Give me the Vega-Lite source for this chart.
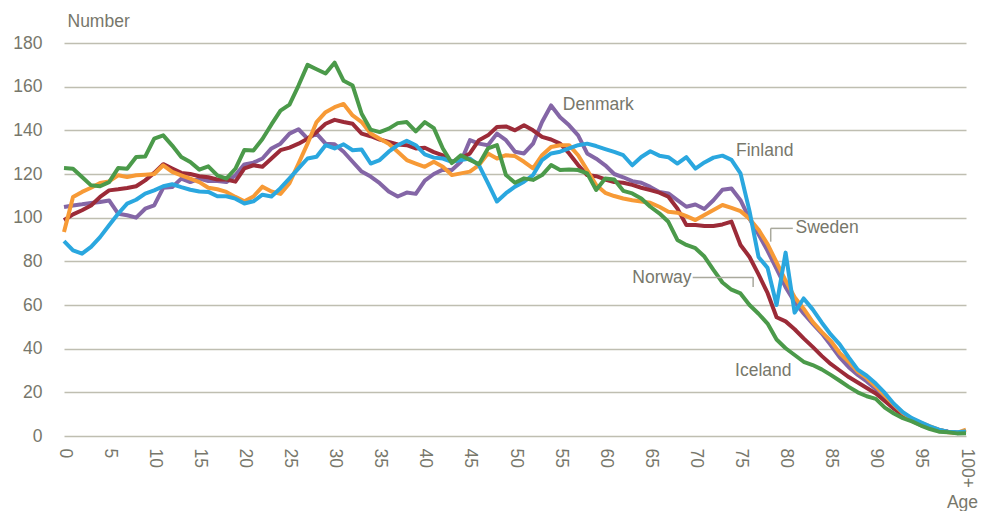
{
  "$schema": "https://vega.github.io/schema/vega-lite/v6.json",
  "width": 902,
  "height": 393,
  "autosize": {"type": "none"},
  "padding": {"left": 64, "top": 43, "right": 16, "bottom": 75},
  "background": "white",
  "config": {
    "view": {"stroke": null},
    "font": "Liberation Sans",
    "axis": {"labelFont": "Liberation Sans", "titleFont": "Liberation Sans", "labelColor": "#77776b", "titleColor": "#77776b", "labelFontSize": 17.5, "titleFontSize": 17.5, "titleFontWeight": "normal", "gridColor": "#bfbeb1", "gridWidth": 1.5, "gridOpacity": 1, "domain": false, "ticks": false}
  },
  "datasets": {
    "pop": [
      {"age":0,"Denmark":104.9,"Finland":89.3,"Iceland":122.7,"Norway":98.8,"Sweden":93.4},
      {"age":1,"Denmark":105.6,"Finland":85,"Iceland":122.4,"Norway":101.5,"Sweden":109.5},
      {"age":2,"Denmark":106.1,"Finland":83.5,"Iceland":118.6,"Norway":103.4,"Sweden":111.8},
      {"age":3,"Denmark":106.7,"Finland":86.6,"Iceland":114.8,"Norway":105.6,"Sweden":113.7},
      {"age":4,"Denmark":107.2,"Finland":91.1,"Iceland":114.4,"Norway":109.5,"Sweden":115.9},
      {"age":5,"Denmark":107.9,"Finland":96.5,"Iceland":116.3,"Norway":112.5,"Sweden":116.6},
      {"age":6,"Denmark":101.8,"Finland":101.8,"Iceland":122.7,"Norway":113,"Sweden":119.4},
      {"age":7,"Denmark":101.1,"Finland":106.4,"Iceland":122.4,"Norway":113.6,"Sweden":118.6},
      {"age":8,"Denmark":100,"Finland":108.2,"Iceland":127.8,"Norway":114.4,"Sweden":119.4},
      {"age":9,"Denmark":104.1,"Finland":111,"Iceland":128,"Norway":117.1,"Sweden":119.7},
      {"age":10,"Denmark":105.6,"Finland":112.5,"Iceland":136.2,"Norway":120.5,"Sweden":120},
      {"age":11,"Denmark":113.7,"Finland":114.4,"Iceland":137.7,"Norway":124.5,"Sweden":124},
      {"age":12,"Denmark":114,"Finland":115.3,"Iceland":133,"Norway":122.5,"Sweden":121},
      {"age":13,"Denmark":117.9,"Finland":114,"Iceland":127.8,"Norway":120.5,"Sweden":119.4},
      {"age":14,"Denmark":116.3,"Finland":112.8,"Iceland":125.5,"Norway":120,"Sweden":117.9},
      {"age":15,"Denmark":117.9,"Finland":112,"Iceland":122,"Norway":119,"Sweden":116.3},
      {"age":16,"Denmark":116.8,"Finland":111.8,"Iceland":123.5,"Norway":118.5,"Sweden":113.7},
      {"age":17,"Denmark":116.8,"Finland":109.8,"Iceland":119.4,"Norway":117.5,"Sweden":113},
      {"age":18,"Denmark":116.3,"Finland":109.8,"Iceland":117.9,"Norway":117.5,"Sweden":111.8},
      {"age":19,"Denmark":119.4,"Finland":108.7,"Iceland":122.4,"Norway":116.5,"Sweden":109.5},
      {"age":20,"Denmark":124.4,"Finland":106.5,"Iceland":131,"Norway":122.6,"Sweden":107.5},
      {"age":21,"Denmark":125.2,"Finland":107.5,"Iceland":130.8,"Norway":124,"Sweden":109.7},
      {"age":22,"Denmark":127.1,"Finland":110.5,"Iceland":136,"Norway":123.3,"Sweden":114.2},
      {"age":23,"Denmark":131.7,"Finland":109.7,"Iceland":142.7,"Norway":127.1,"Sweden":112},
      {"age":24,"Denmark":133.9,"Finland":113.5,"Iceland":149,"Norway":130.9,"Sweden":110.9},
      {"age":25,"Denmark":138.5,"Finland":118,"Iceland":151.8,"Norway":132.1,"Sweden":115.8},
      {"age":26,"Denmark":140.5,"Finland":122.6,"Iceland":160.5,"Norway":133.9,"Sweden":124.8},
      {"age":27,"Denmark":136.2,"Finland":127.1,"Iceland":170,"Norway":136.2,"Sweden":133.9},
      {"age":28,"Denmark":138.5,"Finland":127.9,"Iceland":168,"Norway":139.2,"Sweden":143.8},
      {"age":29,"Denmark":133.9,"Finland":133.2,"Iceland":166,"Norway":143,"Sweden":148.3},
      {"age":30,"Denmark":133.6,"Finland":131.7,"Iceland":171,"Norway":144.8,"Sweden":150.6},
      {"age":31,"Denmark":130.2,"Finland":133.6,"Iceland":162.7,"Norway":143.8,"Sweden":152.1},
      {"age":32,"Denmark":125.6,"Finland":130.9,"Iceland":160.5,"Norway":143,"Sweden":146.8},
      {"age":33,"Denmark":121.1,"Finland":131.2,"Iceland":147.6,"Norway":138.5,"Sweden":143.8},
      {"age":34,"Denmark":118.8,"Finland":124.8,"Iceland":140.3,"Norway":137.3,"Sweden":138.5},
      {"age":35,"Denmark":115.8,"Finland":126.4,"Iceland":139.2,"Norway":135.8,"Sweden":136.2},
      {"age":36,"Denmark":112,"Finland":130.2,"Iceland":140.8,"Norway":134.7,"Sweden":133.9},
      {"age":37,"Denmark":109.7,"Finland":133.2,"Iceland":143.3,"Norway":133.5,"Sweden":130.2},
      {"age":38,"Denmark":111.5,"Finland":135.2,"Iceland":143.8,"Norway":133.2,"Sweden":126.4},
      {"age":39,"Denmark":110.9,"Finland":133.2,"Iceland":139.5,"Norway":131.7,"Sweden":124.8},
      {"age":40,"Denmark":117,"Finland":129,"Iceland":143.8,"Norway":132,"Sweden":123.3},
      {"age":41,"Denmark":120,"Finland":127.5,"Iceland":141,"Norway":130,"Sweden":125.6},
      {"age":42,"Denmark":122,"Finland":127.1,"Iceland":131.7,"Norway":128.5,"Sweden":123.3},
      {"age":43,"Denmark":121.8,"Finland":125.6,"Iceland":125,"Norway":125.6,"Sweden":119.5},
      {"age":44,"Denmark":125.6,"Finland":126.4,"Iceland":128.6,"Norway":127.1,"Sweden":120.3},
      {"age":45,"Denmark":135.5,"Finland":127.1,"Iceland":126.4,"Norway":129.4,"Sweden":121.1},
      {"age":46,"Denmark":133.9,"Finland":124.1,"Iceland":124.5,"Norway":135.5,"Sweden":124.1},
      {"age":47,"Denmark":133.2,"Finland":115.8,"Iceland":131.7,"Norway":137.7,"Sweden":129.4},
      {"age":48,"Denmark":138.5,"Finland":107.4,"Iceland":133.2,"Norway":141.5,"Sweden":127.1},
      {"age":49,"Denmark":135.5,"Finland":111.2,"Iceland":119.5,"Norway":141.8,"Sweden":128.6},
      {"age":50,"Denmark":130.2,"Finland":114.2,"Iceland":116,"Norway":140,"Sweden":128.2},
      {"age":51,"Denmark":129.4,"Finland":116.5,"Iceland":118,"Norway":142.3,"Sweden":125.6},
      {"age":52,"Denmark":133.9,"Finland":119.5,"Iceland":117.3,"Norway":140,"Sweden":122.6},
      {"age":53,"Denmark":143.8,"Finland":126.4,"Iceland":119.5,"Norway":137,"Sweden":128.6},
      {"age":54,"Denmark":151.4,"Finland":129.4,"Iceland":124.1,"Norway":135.8,"Sweden":132.4},
      {"age":55,"Denmark":146,"Finland":130.2,"Iceland":121.8,"Norway":133.9,"Sweden":133.2},
      {"age":56,"Denmark":142.3,"Finland":131.7,"Iceland":122.1,"Norway":129.4,"Sweden":133.2},
      {"age":57,"Denmark":137.7,"Finland":133.2,"Iceland":121.8,"Norway":124.1,"Sweden":128.6},
      {"age":58,"Denmark":129.4,"Finland":133.9,"Iceland":120.3,"Norway":119.5,"Sweden":121.8},
      {"age":59,"Denmark":127,"Finland":132.8,"Iceland":112.7,"Norway":119,"Sweden":115},
      {"age":60,"Denmark":124,"Finland":131.4,"Iceland":117.9,"Norway":117.5,"Sweden":111.4},
      {"age":61,"Denmark":120,"Finland":130.1,"Iceland":117.5,"Norway":116.3,"Sweden":109.9},
      {"age":62,"Denmark":118.5,"Finland":128.6,"Iceland":112.3,"Norway":116,"Sweden":108.8},
      {"age":63,"Denmark":116.7,"Finland":124,"Iceland":111.1,"Norway":115,"Sweden":108},
      {"age":64,"Denmark":116,"Finland":127.8,"Iceland":108.8,"Norway":113.7,"Sweden":107.4},
      {"age":65,"Denmark":114.1,"Finland":130.4,"Iceland":105,"Norway":112.6,"Sweden":106.8},
      {"age":66,"Denmark":111.8,"Finland":128.4,"Iceland":102,"Norway":111.5,"Sweden":105},
      {"age":67,"Denmark":111.1,"Finland":127.7,"Iceland":98.1,"Norway":109.6,"Sweden":102.7},
      {"age":68,"Denmark":108,"Finland":124.8,"Iceland":89.8,"Norway":104.2,"Sweden":102.3},
      {"age":69,"Denmark":105,"Finland":127.7,"Iceland":87.5,"Norway":96.6,"Sweden":100.7},
      {"age":70,"Denmark":106,"Finland":122.5,"Iceland":86,"Norway":96.6,"Sweden":98.9},
      {"age":71,"Denmark":104,"Finland":125.3,"Iceland":82.2,"Norway":96.2,"Sweden":101.2},
      {"age":72,"Denmark":108,"Finland":127.5,"Iceland":76.1,"Norway":96.2,"Sweden":103.5},
      {"age":73,"Denmark":112.8,"Finland":128.4,"Iceland":70.3,"Norway":96.9,"Sweden":105.8},
      {"age":74,"Denmark":113.4,"Finland":126.5,"Iceland":67,"Norway":98.2,"Sweden":104.5},
      {"age":75,"Denmark":108,"Finland":120.3,"Iceland":65.3,"Norway":87.5,"Sweden":103},
      {"age":76,"Denmark":99.5,"Finland":103,"Iceland":60,"Norway":82,"Sweden":99.5},
      {"age":77,"Denmark":92.4,"Finland":82,"Iceland":56,"Norway":74,"Sweden":94.5},
      {"age":78,"Denmark":84.8,"Finland":77,"Iceland":51.5,"Norway":65.5,"Sweden":87.9},
      {"age":79,"Denmark":76.5,"Finland":60,"Iceland":44.2,"Norway":54.4,"Sweden":79.5},
      {"age":80,"Denmark":68.2,"Finland":84,"Iceland":40.2,"Norway":52.5,"Sweden":71.2},
      {"age":81,"Denmark":61.4,"Finland":56.5,"Iceland":37.1,"Norway":48.9,"Sweden":63.6},
      {"age":82,"Denmark":56.1,"Finland":63,"Iceland":34,"Norway":44.7,"Sweden":58.3},
      {"age":83,"Denmark":51.5,"Finland":58,"Iceland":32.5,"Norway":40.8,"Sweden":52.3},
      {"age":84,"Denmark":47,"Finland":52,"Iceland":30.5,"Norway":36.7,"Sweden":47.7},
      {"age":85,"Denmark":41.7,"Finland":46.5,"Iceland":28,"Norway":33,"Sweden":43.6},
      {"age":86,"Denmark":36,"Finland":42,"Iceland":25.3,"Norway":30,"Sweden":38},
      {"age":87,"Denmark":31.5,"Finland":36,"Iceland":22.5,"Norway":27,"Sweden":34},
      {"age":88,"Denmark":28,"Finland":30.4,"Iceland":20,"Norway":24.5,"Sweden":29.5},
      {"age":89,"Denmark":25,"Finland":27.6,"Iceland":18.2,"Norway":22,"Sweden":26.6},
      {"age":90,"Denmark":21.5,"Finland":24,"Iceland":17,"Norway":19.5,"Sweden":22.7},
      {"age":91,"Denmark":17.5,"Finland":19.7,"Iceland":13,"Norway":16,"Sweden":18.5},
      {"age":92,"Denmark":13.5,"Finland":14.8,"Iceland":10.3,"Norway":12.5,"Sweden":14.4},
      {"age":93,"Denmark":10,"Finland":10.9,"Iceland":8.2,"Norway":9.5,"Sweden":10.5},
      {"age":94,"Denmark":7.5,"Finland":8.2,"Iceland":6.7,"Norway":7,"Sweden":7.9},
      {"age":95,"Denmark":5.5,"Finland":6.3,"Iceland":4.8,"Norway":5,"Sweden":6},
      {"age":96,"Denmark":4,"Finland":4.4,"Iceland":3.2,"Norway":3.7,"Sweden":4.4},
      {"age":97,"Denmark":2.8,"Finland":2.9,"Iceland":2,"Norway":2.6,"Sweden":2.9},
      {"age":98,"Denmark":2,"Finland":2,"Iceland":1.7,"Norway":2,"Sweden":1.7},
      {"age":99,"Denmark":1.5,"Finland":1.7,"Iceland":1.2,"Norway":1.5,"Sweden":1.4},
      {"age":100,"Denmark":1.5,"Finland":2.1,"Iceland":1.3,"Norway":1.5,"Sweden":2.9}
    ],
    "labels": [
      {"label": "Denmark", "age": 55.3, "value": 151.6},
      {"label": "Finland", "age": 74.5, "value": 130.5},
      {"label": "Sweden", "age": 81.1, "value": 95.4},
      {"label": "Norway", "age": 63.0, "value": 72.3},
      {"label": "Iceland", "age": 74.4, "value": 29.8}
    ],
    "leaders": [
      {"age": 78.35, "value": 95.1, "age2": 78.35, "value2": 89.0},
      {"age": 78.35, "value": 95.1, "age2": 80.8, "value2": 95.1},
      {"age": 69.7, "value": 72.6, "age2": 76.4, "value2": 72.6},
      {"age": 76.4, "value": 72.8, "age2": 76.4, "value2": 68.3}
    ]
  },
  "data": {"name": "pop"},
  "transform": [{"fold": ["Denmark", "Finland", "Iceland", "Norway", "Sweden"], "as": ["country", "value"]}],
  "layer": [
    {
      "mark": {"type": "rule", "opacity": 0},
      "encoding": {
        "x": {"field": "age", "type": "quantitative", "scale": {"domain": [0, 100], "nice": false, "zero": false},
          "axis": {"values": [0,5,10,15,20,25,30,35,40,45,50,55,60,65,70,75,80,85,90,95,100], "grid": false, "labelAngle": 90, "labelPadding": 12, "labelExpr": "datum.value == 100 ? '100+' : datum.label", "title": "Age", "titleX": 898, "titleY": 66, "titleAlign": "center", "titleBaseline": "middle"}},
        "y": {"field": "value", "type": "quantitative", "scale": {"domain": [0, 180], "nice": false},
          "axis": {"values": [0,20,40,60,80,100,120,140,160,180], "grid": true, "labelPadding": 22, "title": "Number", "titleAngle": 0, "titleX": 3, "titleY": -22, "titleAlign": "left", "titleBaseline": "middle"}}
      }
    },
    {
      "transform": [{"filter": "datum.country == 'Denmark'"}],
      "mark": {"type": "line", "stroke": "#8466a6", "strokeWidth": 4, "strokeJoin": "round"},
      "encoding": {"x": {"field": "age", "type": "quantitative"}, "y": {"field": "value", "type": "quantitative"}}
    },
    {
      "transform": [{"filter": "datum.country == 'Norway'"}],
      "mark": {"type": "line", "stroke": "#9c2b38", "strokeWidth": 4, "strokeJoin": "round"},
      "encoding": {"x": {"field": "age", "type": "quantitative"}, "y": {"field": "value", "type": "quantitative"}}
    },
    {
      "transform": [{"filter": "datum.country == 'Sweden'"}],
      "mark": {"type": "line", "stroke": "#f79a36", "strokeWidth": 4, "strokeJoin": "round"},
      "encoding": {"x": {"field": "age", "type": "quantitative"}, "y": {"field": "value", "type": "quantitative"}}
    },
    {
      "transform": [{"filter": "datum.country == 'Finland'"}],
      "mark": {"type": "line", "stroke": "#2aa7df", "strokeWidth": 4, "strokeJoin": "round"},
      "encoding": {"x": {"field": "age", "type": "quantitative"}, "y": {"field": "value", "type": "quantitative"}}
    },
    {
      "transform": [{"filter": "datum.country == 'Iceland'"}],
      "mark": {"type": "line", "stroke": "#4b9a4a", "strokeWidth": 4, "strokeJoin": "round"},
      "encoding": {"x": {"field": "age", "type": "quantitative"}, "y": {"field": "value", "type": "quantitative"}}
    },
    {
      "data": {"name": "leaders"},
      "mark": {"type": "rule", "stroke": "#a9a99d", "strokeWidth": 1.5},
      "encoding": {
        "x": {"field": "age", "type": "quantitative"},
        "y": {"field": "value", "type": "quantitative"},
        "x2": {"field": "age2"},
        "y2": {"field": "value2"}
      }
    },
    {
      "data": {"name": "labels"},
      "mark": {"type": "text", "align": "left", "baseline": "middle", "fontSize": 17.5, "font": "Liberation Sans", "color": "#77776b"},
      "encoding": {
        "x": {"field": "age", "type": "quantitative"},
        "y": {"field": "value", "type": "quantitative"},
        "text": {"field": "label"}
      }
    }
  ]
}
